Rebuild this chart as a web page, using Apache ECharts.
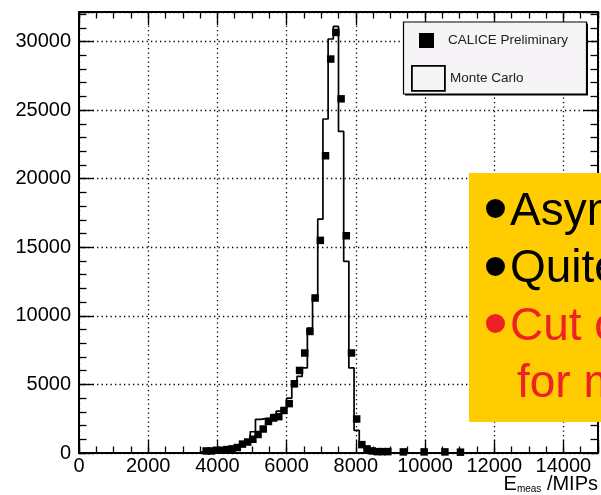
<!DOCTYPE html>
<html>
<head>
<meta charset="utf-8">
<script src="https://cdn.jsdelivr.net/npm/echarts@6/dist/echarts.min.js"></script>
<style>
  html, body { margin: 0; padding: 0; background: #fff; }
  #chart { width: 601px; height: 495px; }
</style>
</head>
<body>
<div id="chart"></div>
<script>
// Energy sum spectrum, 150 MIP bins
const binWidth = 150;

// Monte Carlo histogram: counts per bin, first bin starts at mcFirstEdge
const mcFirstEdge = 3450;
const mcCounts = [100, 60, 120, 150, 170, 200, 250, 300, 550, 750,
                  1550, 2450, 2500, 2550, 2800, 3050, 3300, 4000, 4850, 5580,
                  6200, 9100, 11400, 17050, 24350, 30180, 31100, 23440, 13970, 6200,
                  1650, 600, 250, 100, 40, 20, 10];

// CALICE data: bin centres and counts
const dataCenters = [3675, 3825, 3975, 4125, 4275, 4425, 4575, 4725, 4875, 5025,
                     5175, 5325, 5475, 5625, 5775, 5925, 6075, 6225, 6375, 6525,
                     6675, 6825, 6975, 7125, 7275, 7425, 7575, 7725, 7875, 8025,
                     8175, 8325, 8475, 8625, 8775, 8925, 9375, 9975, 10575, 11025];
const dataCounts = [150, 150, 200, 200, 250, 300, 400, 650, 800, 1000,
                    1350, 1750, 2300, 2550, 2650, 3100, 3600, 5050, 6020, 7290,
                    8860, 11300, 15500, 21670, 28720, 30660, 25820, 15840, 7290, 2480,
                    610, 300, 150, 100, 100, 100, 80, 80, 80, 60];

// axis ticks
const xTickValues = [0, 2000, 4000, 6000, 8000, 10000, 12000, 14000];
const yTickValues = [0, 5000, 10000, 15000, 20000, 25000, 30000];
const xRange = [0, 15000];
const yRange = [0, 32150];

// text box lines
const boxLines = [
  { bullet: true, text: 'Asymmetric', color: '#000000' },
  { bullet: true, text: 'Quite', color: '#000000' },
  { bullet: true, text: 'Cut off', color: '#EE2127' },
  { bullet: false, text: 'for m', color: '#EE2127' }
];

const FONT = 'Liberation Sans, Arial, Helvetica, sans-serif';

// step outline for the MC histogram
const mcPoints = [[mcFirstEdge, 0]];
mcCounts.forEach((c, i) => mcPoints.push([mcFirstEdge + i * binWidth, c]));
mcPoints.push([mcFirstEdge + mcCounts.length * binWidth, 0]);

const dataPoints = dataCenters.map((x, i) => [x, dataCounts[i]]);

const dotted = { color: '#000', width: 1.3, type: [1.3, 3.2] };

function xAxisDef(position, interval, tickLen, major) {
  return {
    type: 'value', position: position, min: xRange[0], max: xRange[1], interval: interval,
    axisLine: { show: major, onZero: false, lineStyle: { color: '#000', width: 2 } },
    axisTick: { show: true, inside: true, length: tickLen, lineStyle: { color: '#000', width: 1.3 } },
    axisLabel: { show: false },
    splitLine: { show: false },
    minorTick: { show: false }
  };
}
function yAxisDef(position, interval, tickLen, major) {
  return {
    type: 'value', position: position, min: yRange[0], max: yRange[1], interval: interval,
    axisLine: { show: major, onZero: false, lineStyle: { color: '#000', width: 2 } },
    axisTick: { show: true, inside: true, length: tickLen, lineStyle: { color: '#000', width: 1.3 } },
    axisLabel: { show: false },
    splitLine: { show: false },
    minorTick: { show: false }
  };
}

const xBottom = xAxisDef('bottom', 2000, 13, true);
xBottom.axisLabel = {
  show: true, margin: 3, fontFamily: FONT, fontSize: 20, color: '#000',
  formatter: v => (xTickValues.indexOf(v) >= 0 ? String(v) : '')
};
xBottom.splitLine = { show: true, lineStyle: dotted };
xBottom.name = '{e|E}{s|meas}{e| /MIPs}';
xBottom.nameLocation = 'end';
xBottom.nameGap = 0;
xBottom.nameMoveOverlap = false;
xBottom.nameTextStyle = {
  align: 'right', verticalAlign: 'top', padding: [21, 0, 0, 0],
  rich: {
    e: { fontFamily: FONT, fontSize: 20, color: '#000', verticalAlign: 'bottom' },
    s: { fontFamily: FONT, fontSize: 10, color: '#000', verticalAlign: 'bottom' }
  }
};

const yLeft = yAxisDef('left', 5000, 15, true);
yLeft.axisLabel = {
  show: true, margin: 8, fontFamily: FONT, fontSize: 20, color: '#000',
  formatter: v => (yTickValues.indexOf(v) >= 0 ? String(v) : '')
};
yLeft.splitLine = { show: true, lineStyle: dotted };

const option = {
  animation: false,
  backgroundColor: '#ffffff',
  grid: { left: 79, right: 3, top: 12, bottom: 42, outerBoundsMode: 'none', containLabel: false },
  xAxis: [
    xBottom,
    xAxisDef('bottom', 500, 6.5, false),
    xAxisDef('top', 2000, 13, true),
    xAxisDef('top', 500, 6.5, false)
  ],
  yAxis: [
    yLeft,
    yAxisDef('left', 1000, 7.5, false),
    yAxisDef('right', 5000, 15, true),
    yAxisDef('right', 1000, 7.5, false)
  ],
  legend: [
    {
      data: ['CALICE Preliminary'], orient: 'vertical', left: 419, top: 33, padding: 0,
      itemWidth: 15, itemHeight: 15, icon: 'rect', selectedMode: false, z: 8,
      itemStyle: { color: '#000', opacity: 1 },
      textStyle: { fontFamily: FONT, fontSize: 13.5, color: '#222', padding: [0, 0, 0, 9] }
    },
    {
      data: ['Monte Carlo'], orient: 'vertical', left: 411, top: 65, padding: 0,
      itemWidth: 33, itemHeight: 25, icon: 'rect', selectedMode: false, z: 8,
      itemStyle: { color: 'rgba(0,0,0,0)', borderColor: '#000', borderWidth: 1.8 },
      textStyle: { fontFamily: FONT, fontSize: 13.5, color: '#222' }
    }
  ],
  series: [
    {
      name: 'Monte Carlo', type: 'line', xAxisIndex: 0, yAxisIndex: 0,
      step: 'end', data: mcPoints, showSymbol: false, symbol: 'none', z: 3,
      lineStyle: { color: '#000', width: 1.7 }, itemStyle: { color: '#000' },
      emphasis: { disabled: true }
    },
    {
      name: 'CALICE Preliminary', type: 'scatter', xAxisIndex: 0, yAxisIndex: 0,
      data: dataPoints, symbol: 'rect', symbolSize: 7.5, z: 4,
      itemStyle: { color: '#000', opacity: 1 }, emphasis: { disabled: true }
    }
  ],
  graphic: {
    elements: [
      // legend frame with drop shadow
      { type: 'rect', z: 6, shape: { x: 405, y: 23.5, width: 183, height: 72 }, style: { fill: '#000' } },
      { type: 'rect', z: 6, shape: { x: 403.5, y: 22, width: 183, height: 72 },
        style: { fill: '#f6f4f6', stroke: '#000', lineWidth: 1.2 } },
      // text box
      { type: 'rect', z: 20, shape: { x: 469, y: 173, width: 140, height: 249 }, style: { fill: '#FFCC00' } }
    ].concat(
      boxLines.map((ln, i) => ({
        type: 'text', z: 21,
        style: {
          text: ln.text, x: ln.bullet ? 510 : 517, y: 212 + i * 57.5,
          fontFamily: FONT, fontSize: 46, fill: ln.color, align: 'left', verticalAlign: 'middle'
        }
      })),
      boxLines.filter(ln => ln.bullet).map((ln, i) => ({
        type: 'text', z: 21,
        style: {
          text: '\u2022', x: 495.5, y: 213 + i * 57.5,
          fontFamily: FONT, fontSize: 70, fill: ln.color, align: 'center', verticalAlign: 'middle'
        }
      }))
    )
  }
};

const chart = echarts.init(document.getElementById('chart'), null, { renderer: 'canvas' });
chart.setOption(option);
</script>
</body>
</html>
